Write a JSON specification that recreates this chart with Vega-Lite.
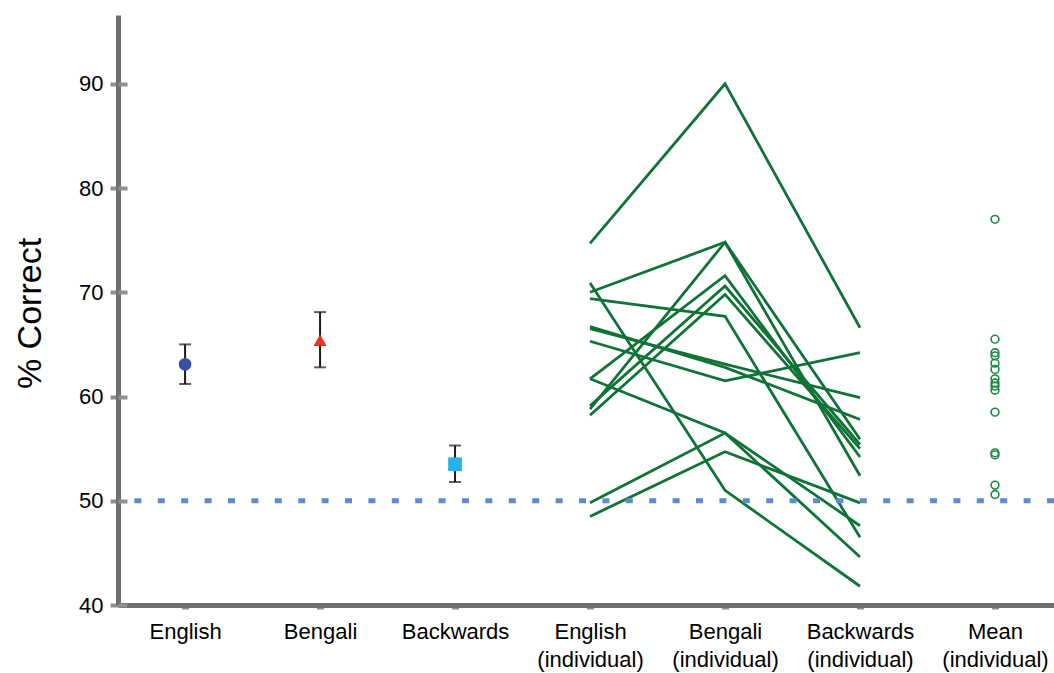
{
  "$schema": "https://vega.github.io/schema/vega-lite/v6.json",
  "width": 936,
  "height": 590,
  "autosize": {"type": "none"},
  "padding": {"left": 118, "top": 15, "right": 0, "bottom": 68},
  "background": "white",
  "config": {"view": {"stroke": null}, "font": "Liberation Sans"},
  "resolve": {"axis": {"x": "independent", "y": "independent"}},
  "datasets": {
    "groups": [
      {"condition": "English", "value": 63.1, "lo": 61.2, "hi": 65.0},
      {"condition": "Bengali", "value": 65.4, "lo": 62.8, "hi": 68.1},
      {"condition": "Backwards", "value": 53.5, "lo": 51.8, "hi": 55.3}
    ],
    "individual": [
      {"subject": 1, "condition": "English (individual)", "value": 74.7},
      {"subject": 1, "condition": "Bengali (individual)", "value": 90.0},
      {"subject": 1, "condition": "Backwards (individual)", "value": 66.6},
      {"subject": 2, "condition": "English (individual)", "value": 70.9},
      {"subject": 2, "condition": "Bengali (individual)", "value": 51.0},
      {"subject": 2, "condition": "Backwards (individual)", "value": 41.8},
      {"subject": 3, "condition": "English (individual)", "value": 70.0},
      {"subject": 3, "condition": "Bengali (individual)", "value": 74.8},
      {"subject": 3, "condition": "Backwards (individual)", "value": 52.4},
      {"subject": 4, "condition": "English (individual)", "value": 58.8},
      {"subject": 4, "condition": "Bengali (individual)", "value": 74.8},
      {"subject": 4, "condition": "Backwards (individual)", "value": 55.9},
      {"subject": 5, "condition": "English (individual)", "value": 61.7},
      {"subject": 5, "condition": "Bengali (individual)", "value": 71.6},
      {"subject": 5, "condition": "Backwards (individual)", "value": 54.2},
      {"subject": 6, "condition": "English (individual)", "value": 59.1},
      {"subject": 6, "condition": "Bengali (individual)", "value": 70.6},
      {"subject": 6, "condition": "Backwards (individual)", "value": 55.4},
      {"subject": 7, "condition": "English (individual)", "value": 58.2},
      {"subject": 7, "condition": "Bengali (individual)", "value": 69.8},
      {"subject": 7, "condition": "Backwards (individual)", "value": 55.0},
      {"subject": 8, "condition": "English (individual)", "value": 69.4},
      {"subject": 8, "condition": "Bengali (individual)", "value": 67.7},
      {"subject": 8, "condition": "Backwards (individual)", "value": 46.5},
      {"subject": 9, "condition": "English (individual)", "value": 66.5},
      {"subject": 9, "condition": "Bengali (individual)", "value": 63.1},
      {"subject": 9, "condition": "Backwards (individual)", "value": 59.9},
      {"subject": 10, "condition": "English (individual)", "value": 66.7},
      {"subject": 10, "condition": "Bengali (individual)", "value": 62.8},
      {"subject": 10, "condition": "Backwards (individual)", "value": 57.8},
      {"subject": 11, "condition": "English (individual)", "value": 65.3},
      {"subject": 11, "condition": "Bengali (individual)", "value": 61.5},
      {"subject": 11, "condition": "Backwards (individual)", "value": 64.2},
      {"subject": 12, "condition": "English (individual)", "value": 61.7},
      {"subject": 12, "condition": "Bengali (individual)", "value": 56.5},
      {"subject": 12, "condition": "Backwards (individual)", "value": 44.6},
      {"subject": 13, "condition": "English (individual)", "value": 49.8},
      {"subject": 13, "condition": "Bengali (individual)", "value": 56.5},
      {"subject": 13, "condition": "Backwards (individual)", "value": 47.6},
      {"subject": 14, "condition": "English (individual)", "value": 48.5},
      {"subject": 14, "condition": "Bengali (individual)", "value": 54.7},
      {"subject": 14, "condition": "Backwards (individual)", "value": 49.8}
    ],
    "means": [
      {"condition": "Mean (individual)", "value": 77.0},
      {"condition": "Mean (individual)", "value": 65.5},
      {"condition": "Mean (individual)", "value": 64.2},
      {"condition": "Mean (individual)", "value": 63.9},
      {"condition": "Mean (individual)", "value": 63.2},
      {"condition": "Mean (individual)", "value": 62.6},
      {"condition": "Mean (individual)", "value": 61.7},
      {"condition": "Mean (individual)", "value": 61.3},
      {"condition": "Mean (individual)", "value": 61.0},
      {"condition": "Mean (individual)", "value": 60.6},
      {"condition": "Mean (individual)", "value": 58.5},
      {"condition": "Mean (individual)", "value": 54.6},
      {"condition": "Mean (individual)", "value": 54.4},
      {"condition": "Mean (individual)", "value": 51.5},
      {"condition": "Mean (individual)", "value": 50.6}
    ],
    "chance": [{"level": 50}]
  },
  "layer": [
    {
      "data": {"name": "individual"},
      "mark": {"type": "line", "color": "#0f7336", "strokeWidth": 2.8},
      "encoding": {
        "x": {
          "field": "condition", "type": "nominal", "title": null,
          "scale": {"type": "point", "domain": ["English", "Bengali", "Backwards", "English (individual)", "Bengali (individual)", "Backwards (individual)", "Mean (individual)"], "padding": 0.467, "align": 0.532},
          "axis": {
            "title": null,
            "labelAngle": 0,
            "labelExpr": "split(datum.label, ' ')",
            "labelFontSize": 22,
            "labelColor": "#000000",
            "labelLineHeight": 28,
            "labelPadding": 12,
            "labelFont": "Liberation Sans",
            "domainColor": "#6e6e6e",
            "domainWidth": 5,
            "tickColor": "#8f8f8f",
            "tickWidth": 7,
            "tickSize": 4,
            "grid": false
          }
        },
        "y": {
          "field": "value", "type": "quantitative", "title": "% Correct",
          "scale": {"domain": [40, 96.6], "nice": false, "zero": false},
          "axis": {
            "orient": "left",
            "title": "% Correct",
            "titleFontSize": 34,
            "titleFontWeight": "normal",
            "titleColor": "#000000",
            "titleFont": "Liberation Sans",
            "titleBaseline": "alphabetic",
            "titleX": -78,
            "titleY": 298,
            "titleAngle": -90,
            "values": [40, 50, 60, 70, 80, 90],
            "labelFontSize": 22,
            "labelColor": "#000000",
            "labelPadding": 7,
            "labelFont": "Liberation Sans",
            "domainColor": "#6e6e6e",
            "domainWidth": 5,
            "tickColor": "#8f8f8f",
            "tickWidth": 4,
            "tickSize": 8,
            "grid": false
          }
        },
        "detail": {"field": "subject", "type": "nominal"}
      }
    },
    {
      "data": {"name": "chance"},
      "mark": {"type": "rule", "color": "#5b8dcb", "strokeWidth": 5, "strokeDash": [7, 16.4]},
      "encoding": {
        "y": {
          "field": "level", "type": "quantitative", "title": null,
          "scale": {"domain": [40, 96.6], "nice": false, "zero": false},
          "axis": {
            "orient": "left",
            "title": null,
            "domain": false,
            "labels": false,
            "grid": false,
            "values": [40, 50, 60, 70, 80, 90],
            "tickColor": "#8f8f8f",
            "tickWidth": 4,
            "tickSize": -9
          }
        }
      }
    },
    {
      "data": {"name": "groups"},
      "mark": {"type": "rule", "color": "#1a1a1a", "strokeWidth": 2},
      "encoding": {
        "x": {"field": "condition", "type": "nominal", "axis": null, "scale": {"type": "point", "domain": ["English", "Bengali", "Backwards", "English (individual)", "Bengali (individual)", "Backwards (individual)", "Mean (individual)"], "padding": 0.467, "align": 0.532}},
        "y": {"field": "lo", "type": "quantitative", "axis": null, "scale": {"domain": [40, 96.6], "nice": false, "zero": false}},
        "y2": {"field": "hi"}
      }
    },
    {
      "data": {"name": "groups"},
      "mark": {"type": "tick", "color": "#1a1a1a", "thickness": 2, "size": 12, "orient": "horizontal"},
      "encoding": {
        "x": {"field": "condition", "type": "nominal", "axis": null, "scale": {"type": "point", "domain": ["English", "Bengali", "Backwards", "English (individual)", "Bengali (individual)", "Backwards (individual)", "Mean (individual)"], "padding": 0.467, "align": 0.532}},
        "y": {"field": "lo", "type": "quantitative", "axis": null, "scale": {"domain": [40, 96.6], "nice": false, "zero": false}}
      }
    },
    {
      "data": {"name": "groups"},
      "mark": {"type": "tick", "color": "#1a1a1a", "thickness": 2, "size": 12, "orient": "horizontal"},
      "encoding": {
        "x": {"field": "condition", "type": "nominal", "axis": null, "scale": {"type": "point", "domain": ["English", "Bengali", "Backwards", "English (individual)", "Bengali (individual)", "Backwards (individual)", "Mean (individual)"], "padding": 0.467, "align": 0.532}},
        "y": {"field": "hi", "type": "quantitative", "axis": null, "scale": {"domain": [40, 96.6], "nice": false, "zero": false}}
      }
    },
    {
      "data": {"name": "groups"},
      "mark": {"type": "point", "filled": true, "opacity": 1},
      "encoding": {
        "x": {"field": "condition", "type": "nominal", "axis": null, "scale": {"type": "point", "domain": ["English", "Bengali", "Backwards", "English (individual)", "Bengali (individual)", "Backwards (individual)", "Mean (individual)"], "padding": 0.467, "align": 0.532}},
        "y": {"field": "value", "type": "quantitative", "axis": null, "scale": {"domain": [40, 96.6], "nice": false, "zero": false}},
        "color": {"field": "condition", "type": "nominal", "scale": {"domain": ["English", "Bengali", "Backwards"], "range": ["#3b4ea3", "#e93323", "#22b5e5"]}, "legend": null},
        "shape": {"field": "condition", "type": "nominal", "scale": {"domain": ["English", "Bengali", "Backwards"], "range": ["circle", "triangle-up", "square"]}, "legend": null},
        "size": {"field": "condition", "type": "nominal", "scale": {"domain": ["English", "Bengali", "Backwards"], "range": [160, 190, 230]}, "legend": null}
      }
    },
    {
      "data": {"name": "means"},
      "mark": {"type": "point", "filled": false, "color": "#1c8a40", "size": 60, "strokeWidth": 1.6, "opacity": 1},
      "encoding": {
        "x": {"field": "condition", "type": "nominal", "axis": null, "scale": {"type": "point", "domain": ["English", "Bengali", "Backwards", "English (individual)", "Bengali (individual)", "Backwards (individual)", "Mean (individual)"], "padding": 0.467, "align": 0.532}},
        "y": {"field": "value", "type": "quantitative", "axis": null, "scale": {"domain": [40, 96.6], "nice": false, "zero": false}}
      }
    }
  ]
}
